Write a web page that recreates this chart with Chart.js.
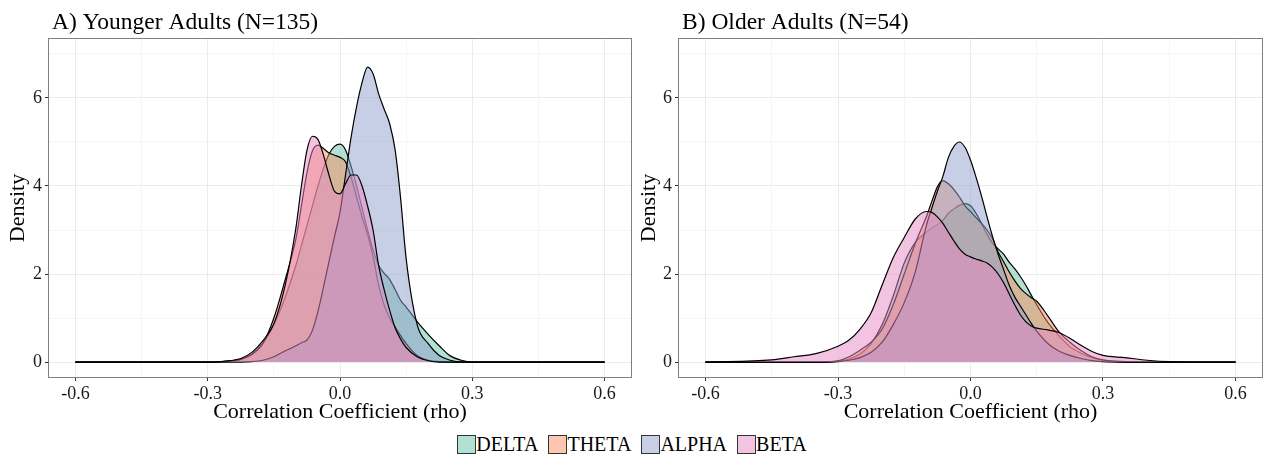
<!DOCTYPE html>
<html>
<head>
<meta charset="utf-8">
<title>Correlation density by band</title>
<script src="https://cdn.jsdelivr.net/npm/chart.js@4.4.1/dist/chart.umd.min.js"></script>
<style>
    html, body { margin: 0; padding: 0; background: #fff; }
    #wrap { position: relative; width: 1264px; height: 454px; overflow: hidden; }
    #panelA, #panelB { position: absolute; top: 0; }
    #panelA { left: 0; }
    #panelB { left: 632px; }
    #legend {
        position: absolute; left: 0; top: 432px; width: 1264px; height: 24px;
        display: flex; justify-content: center; align-items: center; gap: 10px;
        font-family: 'Liberation Serif', 'Times New Roman', serif; font-size: 20px; color: #000;
    }
    .item { display: flex; align-items: center; }
    .key { width: 19px; height: 19px; box-sizing: border-box; border: 1.5px solid #333; }
</style>
</head>
<body>
<div id="wrap">
    <canvas id="panelA" width="632" height="430"></canvas>
    <canvas id="panelB" width="632" height="430"></canvas>
    <div id="legend"></div>
</div>
<script>
// Band names and fills (Set2, 50% alpha)
const bands = ['DELTA', 'THETA', 'ALPHA', 'BETA'];
const bandFills = ['rgba(102,194,165,0.5)', 'rgba(252,141,98,0.5)', 'rgba(141,160,203,0.5)', 'rgba(231,138,195,0.5)'];

const rhoGrid = [-0.6, -0.45, -0.4, -0.35, -0.3, -0.275, -0.25, -0.225, -0.2, -0.175, -0.15, -0.125, -0.1,
    -0.0875, -0.075, -0.0625, -0.05, -0.0375, -0.025, -0.0125, 0, 0.0125, 0.025, 0.0375, 0.05, 0.0625, 0.075,
    0.0875, 0.1, 0.1125, 0.125, 0.1375, 0.15, 0.175, 0.2, 0.225, 0.25, 0.275, 0.3, 0.35, 0.4, 0.45, 0.6];

// A) Younger adults
const youngDelta = [0, 0, 0, 0, 0, 0.005, 0.02, 0.06, 0.18, 0.42, 0.85, 1.45, 2.2,
    2.65, 3.1, 3.55, 4.0, 4.4, 4.72, 4.9, 4.95, 4.82, 4.45, 4.0, 3.5, 3.0, 2.55,
    2.2, 2.02, 1.88, 1.65, 1.4, 1.25, 0.92, 0.63, 0.37, 0.14, 0.04, 0, 0, 0, 0, 0];
const youngTheta = [0, 0, 0, 0, 0, 0.005, 0.02, 0.06, 0.17, 0.42, 1.0, 1.85, 2.8,
    3.55, 4.3, 4.8, 4.93, 4.85, 4.75, 4.7, 4.65, 4.55, 4.2, 3.75, 3.3, 2.9, 2.4,
    1.75, 1.3, 1.0, 0.8, 0.6, 0.42, 0.15, 0.04, 0.01, 0, 0, 0, 0, 0, 0, 0];
const youngAlpha = [0, 0, 0, 0, 0, 0, 0, 0, 0.01, 0.04, 0.12, 0.25, 0.37,
    0.44, 0.5, 0.72, 1.15, 1.7, 2.28, 2.85, 3.4, 4.25, 5.1, 5.8, 6.35, 6.7, 6.55,
    6.1, 5.75, 5.42, 4.82, 3.72, 2.35, 0.85, 0.42, 0.15, 0.04, 0, 0, 0, 0, 0, 0];
const youngBeta = [0, 0, 0, 0, 0, 0.01, 0.03, 0.08, 0.22, 0.48, 0.87, 1.72, 3.05,
    4.0, 4.81, 5.13, 5.06, 4.7, 4.25, 3.88, 3.82, 4.05, 4.25, 4.25, 4.0, 3.55, 3.0,
    2.2, 1.65, 1.18, 0.78, 0.52, 0.33, 0.12, 0.03, 0, 0, 0, 0, 0, 0, 0, 0];

// B) Older adults
const olderDelta = [0, 0, 0, 0, 0.02, 0.07, 0.18, 0.42, 0.85, 1.5, 2.25, 2.72, 2.95,
    3.05, 3.12, 3.22, 3.38, 3.48, 3.56, 3.6, 3.55, 3.38, 3.15, 2.9, 2.7, 2.57, 2.45,
    2.27, 2.12, 1.95, 1.75, 1.52, 1.3, 0.9, 0.6, 0.35, 0.2, 0.1, 0.04, 0, 0, 0, 0];
const olderTheta = [0, 0, 0, 0, 0.03, 0.12, 0.27, 0.45, 0.75, 1.3, 2.0, 2.7, 3.3,
    3.65, 3.98, 4.12, 4.05, 3.92, 3.75, 3.55, 3.42, 3.28, 3.15, 3.0, 2.8, 2.5, 2.28,
    2.05, 1.85, 1.68, 1.56, 1.46, 1.38, 1.05, 0.69, 0.45, 0.26, 0.12, 0.05, 0.01, 0, 0, 0];
const olderAlpha = [0, 0, 0, 0, 0.01, 0.04, 0.1, 0.22, 0.45, 0.85, 1.35, 2.05, 3.1,
    3.5, 3.88, 4.22, 4.65, 4.9, 5.0, 4.88, 4.59, 4.2, 3.77, 3.3, 2.85, 2.45, 2.1,
    1.75, 1.48, 1.28, 1.08, 0.88, 0.7, 0.42, 0.25, 0.15, 0.08, 0.03, 0.01, 0, 0, 0, 0];
const olderBeta = [0, 0.05, 0.12, 0.19, 0.36, 0.5, 0.75, 1.12, 1.75, 2.37, 2.83, 3.25, 3.42,
    3.4, 3.3, 3.15, 2.95, 2.75, 2.57, 2.45, 2.39, 2.34, 2.3, 2.25, 2.15, 2.0, 1.8,
    1.55, 1.3, 1.08, 0.92, 0.82, 0.77, 0.73, 0.67, 0.54, 0.38, 0.24, 0.15, 0.1, 0.04, 0.01, 0];

// axis ticks
const rhoTicks = [-0.6, -0.3, 0, 0.3, 0.6];
const rhoTickLabels = ['-0.6', '-0.3', '0.0', '0.3', '0.6'];
const rhoMinor = [-0.45, -0.15, 0.15, 0.45];
const densityTicks = [0, 2, 4, 6];
const densityMinor = [1, 3, 5, 7];

const SERIF = "'Liberation Serif', 'Times New Roman', serif";
Chart.defaults.font.family = SERIF;
Chart.defaults.color = '#1a1a1a';

const near = (a, b) => Math.abs(a - b) < 1e-9;
const inList = (list, v) => list.some(t => near(t, v));

// panel border + left-aligned panel title
const panelDecor = {
    id: 'panelDecor',
    afterDraw(chart, args, opts) {
        const { ctx, chartArea: a } = chart;
        ctx.save();
        ctx.strokeStyle = '#7f7f7f';
        ctx.lineWidth = 1;
        ctx.strokeRect(Math.round(a.left) - 0.5, Math.round(a.top) - 0.5,
            Math.round(a.right - a.left) + 1, Math.round(a.bottom - a.top) + 1);
        ctx.font = `23.5px ${SERIF}`;
        ctx.fillStyle = '#000';
        ctx.textBaseline = 'alphabetic';
        ctx.fillText(opts.text, a.left + 3, 29);
        ctx.restore();
    }
};

function makePanel(canvasId, title, series, yWidth, rightPad, yTitlePad) {
    const datasets = series.map((vals, i) => ({
        label: bands[i],
        data: rhoGrid.map((x, j) => ({ x: x, y: vals[j] })),
        backgroundColor: bandFills[i],
        borderColor: '#000',
        borderWidth: 1.2,
        pointRadius: 0,
        fill: 'origin',
        cubicInterpolationMode: 'monotone',
        order: series.length - i   // BETA drawn last (on top), as in the original
    }));

    new Chart(document.getElementById(canvasId).getContext('2d'), {
        type: 'line',
        data: { datasets },
        options: {
            responsive: false,
            animation: false,
            layout: { padding: { top: 39, right: rightPad, bottom: 0, left: 0 } },
            plugins: {
                legend: { display: false },
                tooltip: { enabled: false },
                panelDecor: { text: title }
            },
            scales: {
                x: {
                    type: 'linear',
                    min: -0.66,
                    max: 0.66,
                    afterBuildTicks: s => { s.ticks = rhoTicks.concat(rhoMinor).sort((a, b) => a - b).map(v => ({ value: v })); },
                    afterFit: s => { s.height = 53; },
                    ticks: {
                        autoSkip: false,
                        maxRotation: 0,
                        padding: 2,
                        font: { size: 18 },
                        callback: v => {
                            const k = rhoTicks.findIndex(t => near(t, v));
                            return k >= 0 ? rhoTickLabels[k] : '';
                        }
                    },
                    grid: {
                        color: c => inList(rhoTicks, c.tick.value) ? '#ebebeb' : '#f5f5f5',
                        tickColor: c => inList(rhoTicks, c.tick.value) ? '#333' : 'rgba(0,0,0,0)',
                        tickLength: 4
                    },
                    border: { display: false },
                    title: {
                        display: true,
                        text: 'Correlation Coefficient (rho)',
                        font: { size: 22 },
                        color: '#000',
                        padding: { top: 0, bottom: 5 }
                    }
                },
                y: {
                    min: -0.34,
                    max: 7.34,
                    afterBuildTicks: s => { s.ticks = densityTicks.concat(densityMinor).sort((a, b) => a - b).map(v => ({ value: v })); },
                    afterFit: s => { s.width = yWidth; },
                    ticks: {
                        padding: 3,
                        font: { size: 18 },
                        callback: v => inList(densityTicks, v) ? String(v) : ''
                    },
                    grid: {
                        color: c => inList(densityTicks, c.tick.value) ? '#ebebeb' : '#f5f5f5',
                        tickColor: c => inList(densityTicks, c.tick.value) ? '#333' : 'rgba(0,0,0,0)',
                        tickLength: 4
                    },
                    border: { display: false },
                    title: {
                        display: true,
                        text: 'Density',
                        font: { size: 22 },
                        color: '#000',
                        padding: { top: yTitlePad, bottom: 0 }
                    }
                }
            }
        },
        plugins: [panelDecor]
    });
}

makePanel('panelA', 'A) Younger Adults (N=135)', [youngDelta, youngTheta, youngAlpha, youngBeta], 49, 1, 5);
makePanel('panelB', 'B) Older Adults (N=54)', [olderDelta, olderTheta, olderAlpha, olderBeta], 47, 2, 4);

// shared legend under both panels
document.getElementById('legend').innerHTML = bands.map((b, i) =>
    `<div class="item"><span class="key" style="background:${bandFills[i]}"></span><span>${b}</span></div>`
).join('');
</script>
</body>
</html>
